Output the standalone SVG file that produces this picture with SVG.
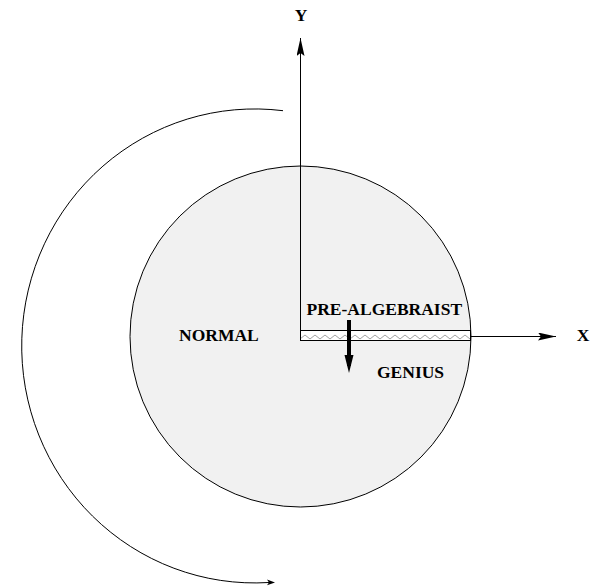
<svg xmlns="http://www.w3.org/2000/svg" width="600" height="586" viewBox="0 0 600 586">
<style>
.lbl{font-family:"Liberation Serif","Times New Roman",serif;font-weight:bold;font-size:17.5px;fill:#000}
.ln{stroke:#000;stroke-width:1;fill:none}
</style>
<defs>
<marker id="ah" markerWidth="18" markerHeight="8" refX="18" refY="4" orient="auto" markerUnits="userSpaceOnUse">
<path d="M0,0 L18,4 L0,8 L3,4 Z" fill="#000"/>
</marker>
<pattern id="zz" x="300" y="334" width="10" height="6" patternUnits="userSpaceOnUse">
<path d="M0,5 L5,1 L10,5" fill="none" stroke="#888" stroke-width="0.8"/>
</pattern>
</defs>
<rect width="600" height="586" fill="#fff"/>
<g id="circle">
<circle cx="300.5" cy="336.5" r="170.5" fill="#f1f1f1" stroke="#000" stroke-width="1"/>
</g>
<g id="band">
<rect x="300.5" y="330.5" width="170" height="10" fill="#fff" stroke="#000" stroke-width="1"/>
<rect x="301" y="334" width="169" height="6" fill="url(#zz)"/>
</g>
<g id="connectors">
<line class="ln" x1="300.5" y1="336" x2="300.5" y2="38" marker-end="url(#ah)"/>
<line class="ln" x1="470.5" y1="336.5" x2="556" y2="336.5" marker-end="url(#ah)"/>
<path class="ln" d="M283,110.7 A233,237 0 1,0 269,582.5"/>
<path d="M267,579.5 L275,582.4 L267,585.3 L269,582.4 Z" fill="#000"/>
<line x1="349" y1="320" x2="349" y2="366" stroke="#000" stroke-width="4"/>
<path d="M344.5,355 L353.5,355 L349,373 Z" fill="#000"/>
</g>
<g id="label-y"><text class="lbl" x="301" y="21" text-anchor="middle">Y</text></g>
<g id="label-x"><text class="lbl" x="583" y="341" text-anchor="middle">X</text></g>
<g id="label-normal"><text class="lbl" x="179" y="341">NORMAL</text></g>
<g id="label-pre"><text class="lbl" x="306.5" y="315">PRE-ALGEBRAIST</text></g>
<g id="label-genius"><text class="lbl" x="377" y="378">GENIUS</text></g>
</svg>
